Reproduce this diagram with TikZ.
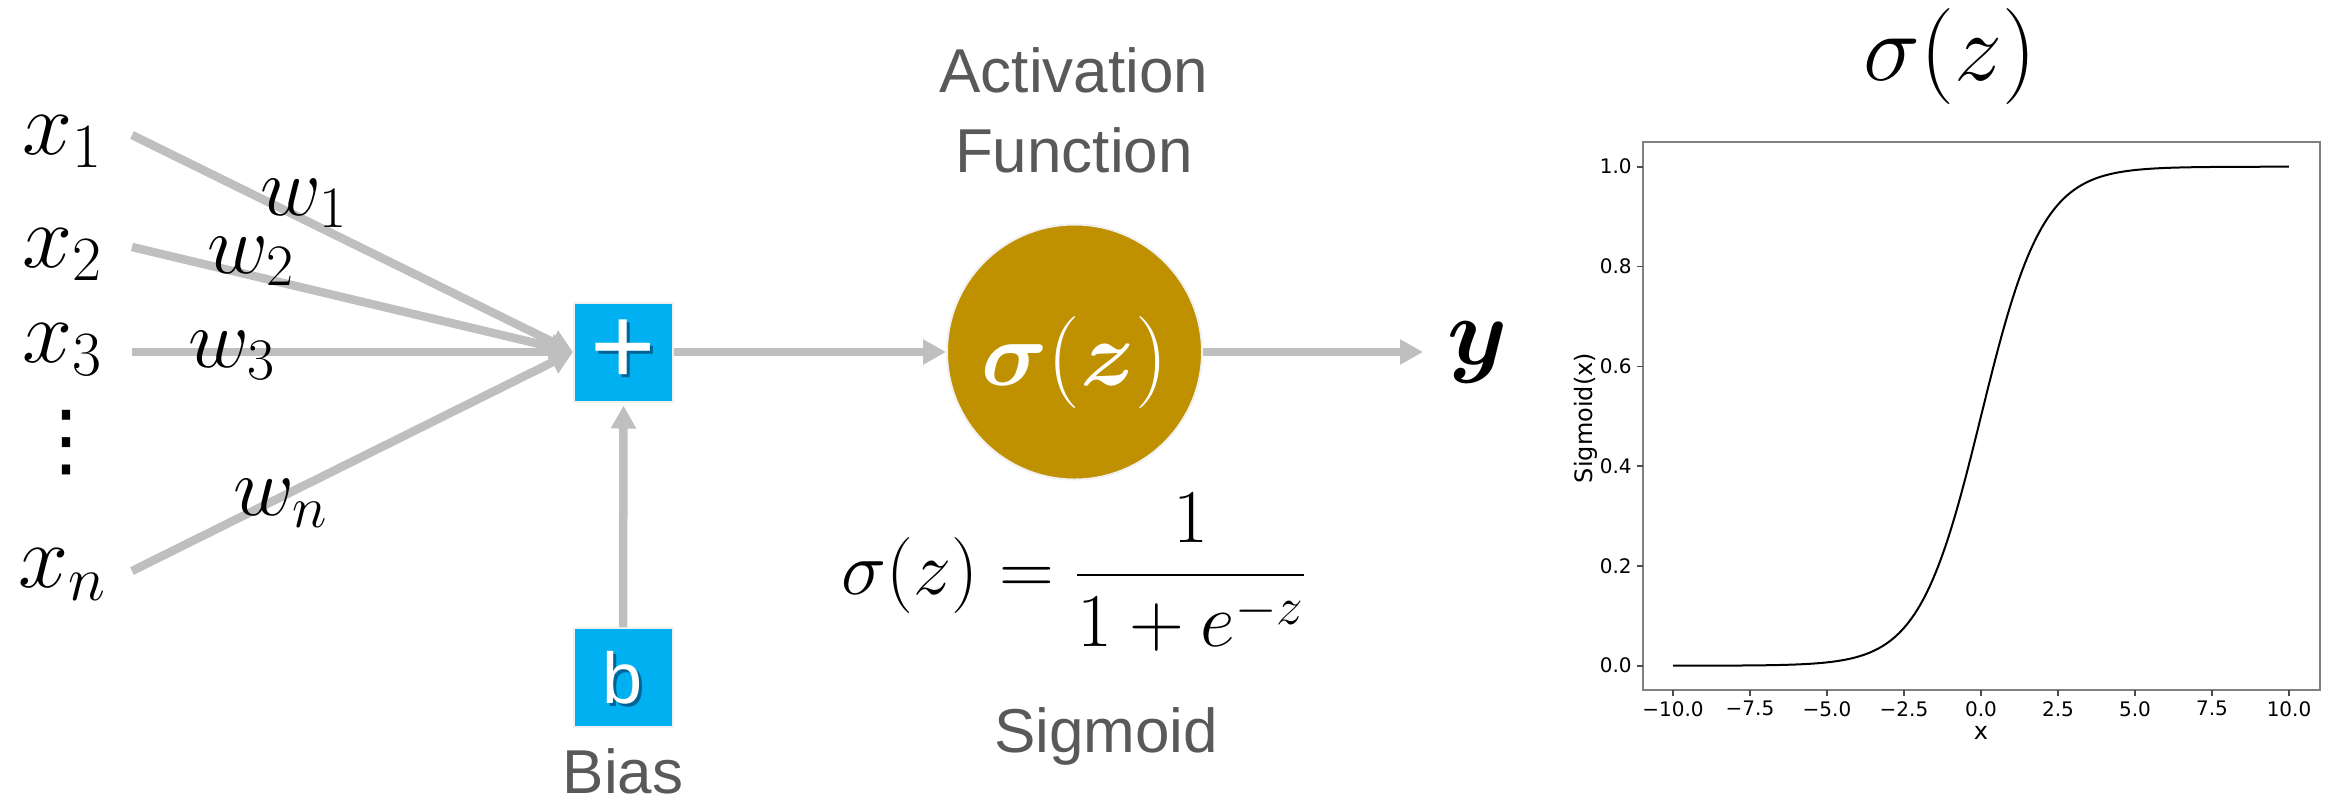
\documentclass[tikz,border=0pt]{standalone}
\usepackage{fix-cm}
\usepackage{amsmath}
\usepackage{fontspec}
\usepackage{tikz}
\usetikzlibrary{arrows.meta, positioning}
\newfontfamily\arialfont{Liberation Sans}
\newfontfamily\plotfont{DejaVu Sans}
\definecolor{arrowGray}{RGB}{191,191,191}
\definecolor{boxBlue}{RGB}{0,176,240}
\definecolor{shadowBlue}{RGB}{0,100,150}
\definecolor{actGold}{RGB}{191,144,0}
\definecolor{textGray}{RGB}{89,89,89}
\definecolor{rimGray}{RGB}{240,240,240}
\newcommand{\shadowtext}[1]{\rlap{\smash{\kern1.5pt\raisebox{-1.5pt}{\color{shadowBlue}#1}}}#1}

\begin{document}
\begin{tikzpicture}[x=0.5pt, y=-0.5pt, every node/.style={inner sep=0pt},
  conn/.style={draw=arrowGray, line width=4.25pt, -{Triangle[length=11.5pt, width=12pt]}},
  inlbl/.style={font=\fontsize{45}{50}\selectfont, anchor=base west},
  wlbl/.style={font=\fontsize{42}{46}\selectfont, anchor=base west},
  bluebox/.style={fill=boxBlue, draw=rimGray, line width=1pt, minimum size=49.5pt, text=white},
  graytxt/.style={font=\arialfont\fontsize{31}{40}\selectfont, text=textGray},
  ticklbl/.style={font=\plotfont\fontsize{10}{12}\selectfont}]
  \useasboundingbox (0,0) rectangle (2330,805);

  % inputs, left column  (y axis points down, px of the 2330x805 sheet)
  \node[inlbl] (x1) at (22,154) {$x_1$};
  \node[inlbl] (x2) at (22,267) {$x_2$};
  \node[inlbl] (x3) at (22,362) {$x_3$};
  \node[font=\plotfont\fontsize{40}{44}\selectfont] (dots) at (66,443) {⋮};
  \node[inlbl] (xn) at (18,587) {$x_n$};
  \coordinate (s1) at (132,135);
  \coordinate (s2) at (132,247);
  \coordinate (s3) at (132,352);
  \coordinate (sn) at (132,571);

  % summing box + bias box
  \node[bluebox, font=\arialfont\fontsize{56}{60}\selectfont] (sum) at (623.5,352) {\shadowtext{+}};
  \node[bluebox, font=\arialfont\fontsize{36}{40}\selectfont] (bias) at (623,677.5) {\shadowtext{b}};
  \node[graytxt, anchor=base] (biaslbl) at (623,793) {Bias};

  % activation neuron
  \node[circle, fill=actGold, draw=rimGray, line width=1pt, minimum size=127.5pt,
    label={[name=actsym, text=white, font=\fontsize{46}{50}\selectfont, yshift=-5pt]center:$\boldsymbol{\sigma}(\boldsymbol{z})$}] (act) at (1074.5,352) {};
  \node[graytxt, align=center] (actlbl) at (1074,110) {Activation\\Function};
  \node[font=\fontsize{48}{52}\selectfont, anchor=base west] (yout) at (1447,364) {$\boldsymbol{y}$};

  % sigmoid definition
  \node[font=\fontsize{38}{42}\selectfont, anchor=base] (sigdef) at (1074,594) {$\sigma(z) = \dfrac{1}{1+e^{-z}}$};
  \node[graytxt, anchor=base] (siglbl) at (1106,752) {Sigmoid};

  % connectors
  \foreach \s in {s1,s2,s3,sn}
    \draw[conn] (\s) -- (sum.west);
  \draw[conn, shorten >=1.5pt] (bias.north) -- (sum.south);
  \draw[conn] (sum.east) -- (act.west);
  \draw[conn, shorten >=12pt] (act.east) -- (yout.west);

  % weights on top of the lines
  \node[wlbl] (w1) at (260,215) {$w_1$};
  \node[wlbl] (w2) at (207,273) {$w_2$};
  \node[wlbl] (w3) at (188,367) {$w_3$};
  \node[wlbl] (wn) at (233,515) {$w_n$};

  % plot panel  X = 1981 + 30.8x ,  Y = 665.7 - 499s
  \node[font=\fontsize{48}{52}\selectfont] (title) at (1950,56) {$\sigma(z)$};
  \draw[black!50, line width=1pt] (1643,142) rectangle (2320,690);
  \foreach \t/\lab [count=\i] in {-10/−10.0,-7.5/−7.5,-5/−5.0,-2.5/−2.5,0/0.0,2.5/2.5,5/5.0,7.5/7.5,10/10.0} {
    \draw[black!70, line width=0.8pt] ({1981+30.8*\t},690) -- ++(0,6);
    \node[ticklbl, anchor=north] (xt\i) at ({1981+30.8*\t},701) {\lab};
  }
  \foreach \v [count=\i] in {0.0,0.2,0.4,0.6,0.8,1.0} {
    \draw[black!70, line width=0.8pt] (1643,{665.7-499*\v}) -- ++(-6,0);
    \node[ticklbl, anchor=east] (yt\i) at (1632,{665.7-499*\v}) {\v};
  }
  \node[font=\plotfont\fontsize{12}{14}\selectfont] (xlab) at (1981,733) {x};
  \node[font=\plotfont\fontsize{12}{14}\selectfont, rotate=90] (ylab) at (1586,418) {Sigmoid(x)};
  \draw[black, line width=1pt] plot[domain=-10:10, samples=121, smooth]
    ({1981+30.8*\x},{665.7-499/(1+exp(-max(\x,-9)))});
\end{tikzpicture}
\end{document}
